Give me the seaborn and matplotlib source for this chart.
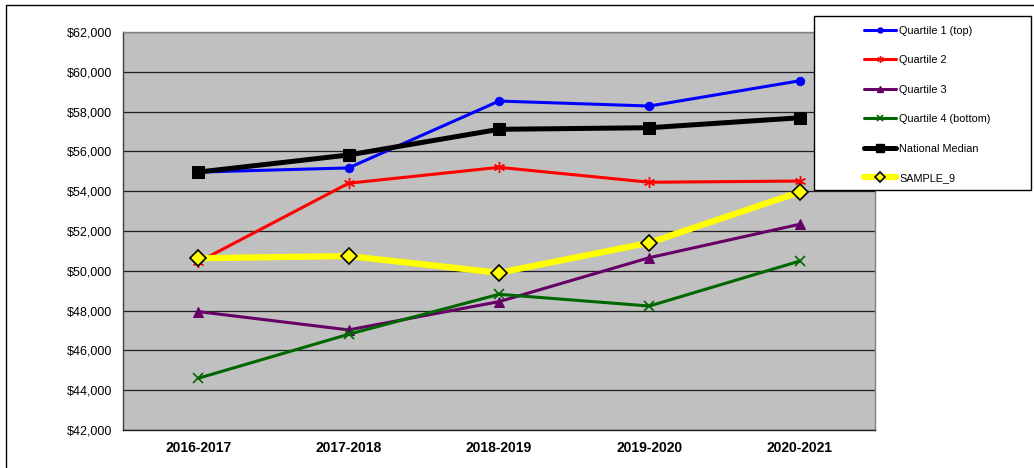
import matplotlib
matplotlib.use("Agg")
import matplotlib.pyplot as plt
from matplotlib.patches import Rectangle
from matplotlib.lines import Line2D
from matplotlib.ticker import FuncFormatter, FixedLocator
import seaborn as sns
import pandas as pd

years = ["2016-2017", "2017-2018", "2018-2019", "2019-2020", "2020-2021"]
quartile1 = [54960, 55170, 58530, 58280, 59550]
quartile2 = [50440, 54400, 55200, 54450, 54510]
quartile3 = [47950, 47030, 48450, 50660, 52340]
quartile4 = [44600, 46810, 48820, 48230, 50490]
national_median = [54960, 55820, 57110, 57190, 57690]
sample_9 = [50630, 50740, 49900, 51410, 53960]

series = [
    ("Quartile 1 (top)", quartile1, dict(color="#0000FF", lw=2.2, marker="o", ms=6, mec="#0000FF", mfc="#0000FF")),
    ("Quartile 2", quartile2, dict(color="#FF0000", lw=2.2, marker=(6, 2, 0), ms=8, mec="#FF0000", mfc="#FF0000", mew=1.0)),
    ("Quartile 3", quartile3, dict(color="#660066", lw=2.2, marker="^", ms=7, mec="#660066", mfc="#660066")),
    ("Quartile 4 (bottom)", quartile4, dict(color="#006600", lw=2.2, marker="x", ms=7, mec="#006600", mew=1.2)),
    ("National Median", national_median, dict(color="#000000", lw=3.6, marker="s", ms=9, mec="#000000", mfc="#000000")),
    ("SAMPLE_9", sample_9, dict(color="#FFFF00", lw=4.5, marker="D", ms=8, mec="#000000", mfc="#FFFF00", mew=1.2)),
]

sns.set_theme(style="white")
plt.rcParams["font.family"] = ["Liberation Sans", "DejaVu Sans"]
plt.rcParams["text.color"] = "black"
plt.rcParams["xtick.color"] = "black"
plt.rcParams["ytick.color"] = "black"

fig = plt.figure(figsize=(10.34, 4.68), dpi=100)
ax = fig.add_axes([123 / 1034, 38 / 468, 752 / 1034, 398 / 468])
ax.set_facecolor("#C0C0C0")

for name, vals, style in series:
    df = pd.DataFrame({"year": years, "value": vals})
    sns.lineplot(data=df, x="year", y="value", ax=ax, label=name, sort=False, **style)

ax.set_xlim(-0.5, len(years) - 0.5)
ax.set_ylim(42000, 62000)
ax.yaxis.set_major_locator(FixedLocator(range(42000, 62001, 2000)))
ax.yaxis.set_major_formatter(FuncFormatter(lambda v, _: f"${v:,.0f}"))
ax.grid(axis="y", color="#202020", lw=0.9)
ax.grid(axis="x", visible=False)
ax.set_axisbelow(True)
ax.set_xlabel("")
ax.set_ylabel("")

ax.set_xticks(range(len(years)))
ax.set_xticklabels(years, fontsize=10, fontweight="bold")
ax.set_xticks([i + 0.5 for i in range(-1, len(years))], minor=True)
ax.tick_params(axis="x", which="major", length=0, pad=8)
ax.tick_params(axis="x", which="minor", length=4, width=1, color="#333333", direction="out")
ax.tick_params(axis="y", length=5, width=1, color="#333333", direction="out", pad=3, labelsize=9)

for side, col in [("left", "#404040"), ("bottom", "#202020"), ("top", "#808080"), ("right", "#808080")]:
    ax.spines[side].set_visible(True)
    ax.spines[side].set_color(col)
    ax.spines[side].set_linewidth(1.0)

ax.get_legend().remove()

# outer chart border
fig.add_artist(Rectangle((6 / 1034, -0.02), 1.0, (468 - 5) / 468 + 0.02,
                         transform=fig.transFigure, fill=False, ec="#000000", lw=1.0, zorder=0.5))
# legend box
fig.add_artist(Rectangle((814 / 1034, (468 - 190) / 468), 217 / 1034, 174 / 468,
                         transform=fig.transFigure, fc="white", ec="#000000", lw=1.0, zorder=2))

# legend handles are separate copies with smaller markers
handles = []
labels = []
for name, vals, style in series:
    st = dict(style)
    st["ms"] = st["ms"] * 0.6
    handles.append(Line2D([], [], **st))
    labels.append(name)
leg = fig.legend(handles, labels, loc="upper left",
                 bbox_to_anchor=(855 / 1034, (468 - 17) / 468),
                 frameon=False, fontsize=7.8, handlelength=3.0, handletextpad=0.3,
                 labelspacing=1.8, borderpad=0.3)
leg.set_zorder(3)

fig.savefig("out.png", dpi=100)
